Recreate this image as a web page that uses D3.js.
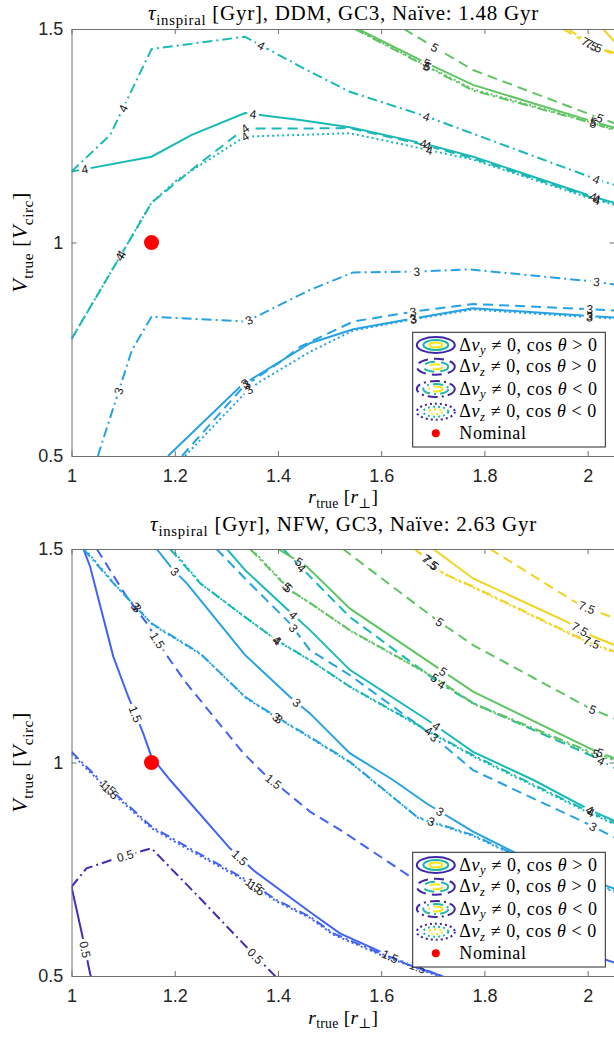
<!DOCTYPE html>
<html><head><meta charset="utf-8">
<script src="https://cdn.jsdelivr.net/npm/d3@7"></script>
<style>body{margin:0;background:#fff}svg{display:block}</style>
</head><body>
<svg id="c" width="614" height="1037"></svg>
<script>
// ---------------- data ----------------
const xTicks = [1, 1.2, 1.4, 1.6, 1.8, 2];
const yTicks = [0.5, 1, 1.5];
const levels = [0.5, 1.5, 3, 4, 5, 7.5];
const nominal = [1.155, 1.0];

const titleDDM = [{t:"τ",it:1},{t:"inspiral",sub:1},{t:" [Gyr], DDM, GC3, Naïve: 1.48 Gyr"}];
const titleNFW = [{t:"τ",it:1},{t:"inspiral",sub:1},{t:" [Gyr], NFW, GC3, Naïve: 2.63 Gyr"}];
const xLabel = [{t:"r",it:1},{t:"true",sub:1},{t:" ["},{t:"r",it:1},{t:"⊥",sub:1},{t:"]"}];
const yLabel = [{t:"V",it:1},{t:"true",sub:1},{t:" ["},{t:"V",it:1},{t:"circ",sub:1},{t:"]"}];
const legendVariants = ["solid","dashed","dashdot","dotted"];
const legendLabels = [
  [{t:"Δ"},{t:"v",it:1},{t:"y",it:1,sub:1},{t:" ≠ 0, cos "},{t:"θ",it:1},{t:" > 0"}],
  [{t:"Δ"},{t:"v",it:1},{t:"z",it:1,sub:1},{t:" ≠ 0, cos "},{t:"θ",it:1},{t:" > 0"}],
  [{t:"Δ"},{t:"v",it:1},{t:"y",it:1,sub:1},{t:" ≠ 0, cos "},{t:"θ",it:1},{t:" < 0"}],
  [{t:"Δ"},{t:"v",it:1},{t:"z",it:1,sub:1},{t:" ≠ 0, cos "},{t:"θ",it:1},{t:" < 0"}],
  [{t:"Nominal"}]
];

// DDM contour lines: [r, V] points, label anchors
const ddmLines = [
  {level:4, v:"dashdot", pts:[[1.0,1.166],[1.075,1.252],[1.155,1.453],[1.336,1.482],[1.462,1.400],[1.539,1.353],[1.688,1.295],[2.017,1.148],[2.06,1.132]], labels:[[1.100,1.314],[1.368,1.462],[1.688,1.295],[2.017,1.148]]},
  {level:4, v:"solid", pts:[[1.0,1.166],[1.155,1.201],[1.233,1.252],[1.336,1.303],[1.443,1.287],[1.539,1.270],[1.685,1.231],[1.778,1.201],[2.011,1.107],[2.06,1.09]], labels:[[1.026,1.170],[1.352,1.300],[1.682,1.232],[2.011,1.107]]},
  {level:4, v:"dashed", pts:[[1.0,0.774],[1.113,1.006],[1.155,1.093],[1.249,1.186],[1.336,1.267],[1.443,1.267],[1.539,1.268],[1.685,1.228],[1.778,1.197],[2.011,1.104],[2.06,1.088]], labels:[[1.094,0.966],[1.336,1.267],[1.690,1.227],[2.018,1.102]]},
  {level:4, v:"dotted", pts:[[1.0,0.774],[1.155,1.093],[1.204,1.146],[1.336,1.248],[1.443,1.252],[1.539,1.256],[1.675,1.221],[1.778,1.194],[2.011,1.101],[2.06,1.086]], labels:[[1.097,0.972],[1.336,1.248],[1.694,1.218],[2.018,1.099]]},
  {level:3, v:"dashdot", pts:[[1.051,0.5],[1.117,0.748],[1.155,0.826],[1.339,0.815],[1.462,0.889],[1.546,0.930],[1.669,0.932],[1.772,0.937],[2.017,0.908],[2.06,0.9]], labels:[[1.094,0.651],[1.344,0.818],[1.669,0.932],[2.017,0.908]]},
  {level:3, v:"solid", pts:[[1.187,0.5],[1.330,0.666],[1.462,0.764],[1.546,0.797],[1.662,0.822],[1.778,0.846],[2.004,0.828],[2.06,0.824]], labels:[[1.335,0.672],[1.662,0.822],[2.004,0.828]]},
  {level:3, v:"dashed", pts:[[1.214,0.5],[1.333,0.662],[1.410,0.725],[1.443,0.756],[1.546,0.815],[1.662,0.838],[1.778,0.856],[2.004,0.844],[2.06,0.840]], labels:[[1.339,0.668],[1.662,0.838],[2.004,0.844]]},
  {level:3, v:"dotted", pts:[[1.220,0.5],[1.339,0.651],[1.365,0.674],[1.462,0.744],[1.546,0.794],[1.662,0.820],[1.778,0.843],[2.004,0.825],[2.06,0.821]], labels:[[1.343,0.656],[1.662,0.820],[2.004,0.825]]},
  {level:5, v:"dashed", pts:[[1.644,1.5],[1.701,1.459],[1.778,1.404],[2.024,1.291],[2.06,1.276]], labels:[[1.704,1.457],[2.024,1.291]]},
  {level:5, v:"solid", pts:[[1.555,1.5],[1.688,1.420],[1.778,1.369],[2.011,1.283],[2.06,1.266]], labels:[[1.688,1.42],[2.011,1.283]]},
  {level:5, v:"dashdot", pts:[[1.549,1.5],[1.688,1.412],[1.778,1.356],[2.011,1.279],[2.06,1.259]], labels:[[1.688,1.412],[2.011,1.279]]},
  {level:5, v:"dotted", pts:[[1.551,1.5],[1.688,1.414],[1.778,1.359],[2.011,1.280],[2.06,1.261]], labels:[[1.690,1.413]]},
  {level:7.5, v:"dashed", pts:[[1.952,1.5],[2.004,1.465],[2.06,1.44]], labels:[[2.004,1.465]]},
  {level:7.5, v:"dashdot", pts:[[1.962,1.5],[2.010,1.462],[2.06,1.435]], labels:[[2.012,1.460]]},
  {level:7.5, v:"solid", pts:[[2.030,1.5],[2.06,1.46]], labels:[]}
];

// NFW contour lines
const nfwLines = [
  {level:0.5, v:"solid", pts:[[1.0,0.709],[1.020,0.600],[1.036,0.506],[1.038,0.497]], labels:[[1.023,0.561]]},
  {level:0.5, v:"dashdot", pts:[[1.0,0.709],[1.029,0.752],[1.088,0.776],[1.155,0.799],[1.249,0.682],[1.339,0.568],[1.397,0.497]], labels:[[1.104,0.781],[1.357,0.548]]},
  {level:1.5, v:"solid", pts:[[1.023,1.5],[1.036,1.459],[1.081,1.248],[1.110,1.154],[1.139,1.068],[1.155,1.013],[1.191,0.959],[1.307,0.799],[1.352,0.748],[1.462,0.650],[1.520,0.600],[1.591,0.561],[1.649,0.528],[1.720,0.499]], labels:[[1.119,1.111],[1.326,0.777],[1.617,0.545]]},
  {level:1.5, v:"dashed", pts:[[1.049,1.5],[1.107,1.388],[1.146,1.326],[1.184,1.252],[1.223,1.185],[1.333,1.022],[1.372,0.975],[1.462,0.885],[1.526,0.838],[1.656,0.733],[1.758,0.671],[1.908,0.589],[2.06,0.528]], labels:[[1.165,1.285],[1.391,0.955]]},
  {level:1.5, v:"dashdot", pts:[[1.0,1.025],[1.055,0.959],[1.155,0.850],[1.223,0.803],[1.339,0.725],[1.397,0.678],[1.462,0.639],[1.507,0.600],[1.598,0.553],[1.720,0.499]], labels:[[1.071,0.943],[1.352,0.712],[1.671,0.522]]},
  {level:1.5, v:"dotted", pts:[[1.0,1.020],[1.055,0.955],[1.155,0.846],[1.223,0.799],[1.339,0.721],[1.397,0.675],[1.462,0.636],[1.507,0.597],[1.598,0.550],[1.712,0.499]], labels:[[1.076,0.933],[1.357,0.703]]},
  {level:3, v:"solid", pts:[[1.165,1.5],[1.197,1.451],[1.223,1.420],[1.336,1.252],[1.423,1.154],[1.462,1.115],[1.539,1.022],[1.623,0.959],[1.688,0.904],[1.778,0.838],[1.862,0.787],[2.004,0.725],[2.06,0.701]], labels:[[1.200,1.447],[1.436,1.14],[1.714,0.885]]},
  {level:3, v:"dashed", pts:[[1.281,1.5],[1.336,1.431],[1.423,1.326],[1.462,1.263],[1.539,1.205],[1.694,1.068],[1.778,0.982],[2.004,0.854],[2.06,0.82]], labels:[[1.430,1.315],[1.704,1.06],[2.011,0.85]]},
  {level:3, v:"dashdot", pts:[[1.023,1.5],[1.081,1.420],[1.155,1.326],[1.249,1.256],[1.336,1.154],[1.397,1.107],[1.462,1.060],[1.539,1.002],[1.669,0.873],[1.778,0.830],[1.862,0.783],[2.004,0.720],[2.06,0.697]], labels:[[1.123,1.365],[1.397,1.107],[1.698,0.866]]},
  {level:3, v:"dotted", pts:[[1.026,1.5],[1.084,1.417],[1.158,1.322],[1.252,1.252],[1.339,1.150],[1.400,1.103],[1.465,1.056],[1.542,0.998],[1.672,0.870],[1.780,0.827],[1.862,0.780],[2.004,0.717],[2.06,0.694]], labels:[[1.126,1.36],[1.401,1.10]]},
  {level:4, v:"solid", pts:[[1.301,1.5],[1.336,1.451],[1.423,1.353],[1.462,1.310],[1.539,1.217],[1.694,1.096],[1.778,1.025],[1.895,0.959],[2.004,0.889],[2.06,0.859]], labels:[[1.430,1.345],[1.707,1.085],[2.004,0.889]]},
  {level:4, v:"dashdot", pts:[[1.191,1.5],[1.249,1.420],[1.336,1.341],[1.397,1.287],[1.462,1.240],[1.539,1.178],[1.701,1.068],[1.778,1.017],[2.004,0.884],[2.06,0.854]], labels:[[1.397,1.287],[1.691,1.072],[2.006,0.883]]},
  {level:4, v:"dotted", pts:[[1.194,1.5],[1.252,1.417],[1.339,1.338],[1.400,1.284],[1.465,1.237],[1.542,1.175],[1.704,1.064],[1.780,1.013],[2.006,0.880],[2.06,0.851]], labels:[[1.399,1.284]]},
  {level:4, v:"dashed", pts:[[1.410,1.5],[1.456,1.443],[1.539,1.341],[1.714,1.185],[1.778,1.139],[2.011,1.014],[2.06,0.982]], labels:[[1.446,1.455],[1.717,1.183],[2.027,1.005]]},
  {level:5, v:"solid", pts:[[1.400,1.5],[1.456,1.459],[1.539,1.361],[1.707,1.224],[1.778,1.166],[2.011,1.029],[2.06,1.006]], labels:[[1.441,1.470],[1.720,1.213],[2.024,1.023]]},
  {level:5, v:"dashdot", pts:[[1.346,1.5],[1.423,1.404],[1.462,1.374],[1.539,1.310],[1.701,1.201],[1.778,1.139],[2.011,1.022],[2.06,1.006]], labels:[[1.417,1.412],[1.704,1.199],[2.016,1.020]]},
  {level:5, v:"dotted", pts:[[1.349,1.5],[1.426,1.401],[1.465,1.371],[1.542,1.307],[1.704,1.198],[1.780,1.136],[2.011,1.019],[2.06,1.003]], labels:[[1.420,1.408]]},
  {level:5, v:"dashed", pts:[[1.526,1.5],[1.707,1.334],[1.778,1.275],[2.004,1.127],[2.06,1.099]], labels:[[1.714,1.33],[2.010,1.124]]},
  {level:7.5, v:"solid", pts:[[1.701,1.5],[1.778,1.431],[1.959,1.330],[2.011,1.295],[2.06,1.271]], labels:[[1.985,1.312]]},
  {level:7.5, v:"dashdot", pts:[[1.665,1.5],[1.720,1.443],[1.778,1.412],[1.979,1.295],[2.06,1.256]], labels:[[1.694,1.470],[2.008,1.282]]},
  {level:7.5, v:"dotted", pts:[[1.667,1.5],[1.722,1.441],[1.780,1.409],[1.981,1.292],[2.06,1.253]], labels:[[1.696,1.467]]},
  {level:7.5, v:"dashed", pts:[[1.811,1.5],[1.985,1.369],[2.06,1.334]], labels:[[1.998,1.362]]}
];

// ---------------- rendering ----------------
const W = 614, H = 1037;
const L = 71.5, R = 615;
const svg = d3.select("#c");
const defs = svg.append("defs");
const x = d3.scaleLinear().domain([1, 2.053]).range([L, R]);
const color = d3.scaleOrdinal().domain(levels)
  .range(["#3d2fb8","#4163f2","#26a2e4","#19b9b6","#5fc462","#f0d41c"]);
const dashes = {solid:null, dashed:"10,6", dashdot:"10,4,2,4", dotted:"2,3"};
const SERIF = "'Liberation Serif', 'DejaVu Serif', serif";
const SANS = "'Liberation Sans', Arial, sans-serif";
const fmt = d => String(d);

function richText(sel, segs, fs, drop){
  const dr = drop == null ? 0.28 : drop;
  let inSub = false;
  segs.forEach(s => {
    const ts = sel.append("tspan").text(s.t);
    if (s.it) ts.attr("font-style","italic");
    if (s.sub){
      ts.attr("font-size", fs*0.7);
      if (!inSub){ ts.attr("dy", fs*dr); inSub = true; }
    } else if (inSub){ ts.attr("dy", -fs*dr); inSub = false; }
  });
}

function placeLabel(sp, q){
  let best = null;
  for (let i=0;i<sp.length-1;i++){
    const [x1,y1]=sp[i],[x2,y2]=sp[i+1];
    const dx=x2-x1, dy=y2-y1, l2=dx*dx+dy*dy;
    let t = l2 ? ((q[0]-x1)*dx+(q[1]-y1)*dy)/l2 : 0;
    t = Math.max(0,Math.min(1,t));
    const px=x1+t*dx, py=y1+t*dy;
    const d=(px-q[0])**2+(py-q[1])**2;
    if(!best||d<best.d){
      let a=Math.atan2(dy,dx)*180/Math.PI;
      if(a>90)a-=180; if(a<-90)a+=180;
      best={d,x:px,y:py,a};
    }
  }
  return best;
}
const labelW = s => s.split("").reduce((w,c)=>w+(c==="."?3.3:6.7),0);

const panels = [
  {title:titleDDM, lines:ddmLines, top:29, bottom:456, titleY:19.5, xlabY:503},
  {title:titleNFW, lines:nfwLines, top:549, bottom:976, titleY:531, xlabY:1023.5}
];

panels.forEach((p, idx) => {
  const y = d3.scaleLinear().domain([0.5,1.5]).range([p.bottom, p.top]);
  const line = d3.line().x(d=>x(d[0])).y(d=>y(d[1]));
  const clipId = "clip"+idx;
  defs.append("clipPath").attr("id",clipId).append("rect")
    .attr("x",L).attr("y",p.top).attr("width",R-L).attr("height",p.bottom-p.top);
  const plot = svg.append("g").attr("clip-path",`url(#${clipId})`);

  const labelsAll = [];
  p.lines.forEach((ln,i) => {
    const sp = ln.pts.map(d=>[x(d[0]),y(d[1])]);
    const labs = ln.labels.map(l=>placeLabel(sp,[x(l[0]),y(l[1])]));
    const maskId = `m${idx}_${i}`;
    const m = defs.append("mask").attr("id",maskId).attr("maskUnits","userSpaceOnUse")
      .attr("x",0).attr("y",0).attr("width",W).attr("height",H);
    m.append("rect").attr("x",0).attr("y",0).attr("width",W).attr("height",H).attr("fill","#fff");
    const txt = fmt(ln.level);
    labs.forEach(lb => {
      const w = labelW(txt)+5;
      m.append("rect").attr("x",-w/2).attr("y",-6).attr("width",w).attr("height",12).attr("fill","#000")
        .attr("transform",`translate(${lb.x},${lb.y}) rotate(${lb.a})`);
      labelsAll.push({lb, txt});
    });
    plot.append("path").attr("d", line(ln.pts)).attr("fill","none")
      .attr("stroke", color(ln.level)).attr("stroke-width",2)
      .attr("stroke-dasharray", dashes[ln.v]).attr("mask",`url(#${maskId})`);
  });
  labelsAll.forEach(({lb,txt}) => {
    plot.append("text").attr("transform",`translate(${lb.x},${lb.y}) rotate(${lb.a})`)
      .attr("text-anchor","middle").attr("dy","0.36em")
      .attr("font-family",SANS).attr("font-size",12).attr("fill","#1a1a1a").text(txt);
  });

  // nominal marker
  svg.append("circle").attr("cx",x(nominal[0])).attr("cy",y(nominal[1])).attr("r",7.5).attr("fill","#ff0000");

  // axes
  const axCol = "#6e6e6e";
  const styleAxis = g => {
    g.select(".domain").attr("stroke",axCol).attr("stroke-width",1);
    g.selectAll(".tick line").attr("stroke",axCol);
    g.selectAll(".tick text").attr("fill","#262626").attr("font-family",SANS).attr("font-size",18);
  };
  svg.append("g").attr("transform",`translate(0,${p.bottom})`)
    .call(d3.axisBottom(x).tickValues(xTicks).tickSize(-5).tickSizeOuter(0).tickPadding(13.5).tickFormat(fmt)).call(styleAxis);
  svg.append("g").attr("transform",`translate(0,${p.top})`)
    .call(d3.axisTop(x).tickValues(xTicks).tickSize(-5).tickSizeOuter(0).tickFormat("")).call(styleAxis);
  svg.append("g").attr("transform",`translate(${L},0)`)
    .call(d3.axisLeft(y).tickValues(yTicks).tickSize(-5).tickSizeOuter(0).tickPadding(8.2).tickFormat(fmt)).call(styleAxis);
  svg.append("g").attr("transform",`translate(${R-0.5},0)`)
    .call(d3.axisRight(y).tickValues(yTicks).tickSize(-5).tickSizeOuter(0).tickFormat("")).call(styleAxis);

  // title & labels
  svg.append("text").attr("x",343.5).attr("y",p.titleY).attr("text-anchor","middle")
    .attr("font-family",SERIF).attr("font-size",21).attr("letter-spacing",0.75).attr("fill","#000").call(t=>richText(t,p.title,21,0.24));
  svg.append("text").attr("x",343.3).attr("y",p.xlabY).attr("text-anchor","middle")
    .attr("font-family",SERIF).attr("font-size",19.5).attr("letter-spacing",0.3).attr("fill","#000").call(t=>richText(t,xLabel,19.5,0.24));
  svg.append("text").attr("transform",`translate(27,${(p.top+p.bottom)/2}) rotate(-90)`).attr("text-anchor","middle")
    .attr("font-family",SERIF).attr("font-size",22).attr("letter-spacing",0.5).attr("fill","#000").call(t=>richText(t,yLabel,22));

  // legend
  const lx = 412.7, ly = p.top + 303.3;
  const lg = svg.append("g");
  lg.append("rect").attr("x",lx).attr("y",ly).attr("width",192.6).attr("height",114.7)
    .attr("fill","#fff").attr("stroke","#262626").attr("stroke-width",1);
  const rowY = [12.7, 34.4, 56.7, 79.4, 101];
  const ringCol = ["#3e26a8","#1fb5ad","#f6e51a"];
  const rings = [[19,8],[12.5,5],[6.5,2.5]];
  legendLabels.forEach((segs,i) => {
    const cy = ly+rowY[i], cx = lx+23.1;
    if (i < 4){
      rings.forEach((r,k) => lg.append("ellipse").attr("cx",cx).attr("cy",cy).attr("rx",r[0]).attr("ry",r[1])
        .attr("fill","none").attr("stroke",ringCol[k]).attr("stroke-width",2)
        .attr("stroke-dasharray",dashes[legendVariants[i]]));
    } else {
      lg.append("circle").attr("cx",cx).attr("cy",cy).attr("r",4).attr("fill","#ff0000");
    }
    lg.append("text").attr("x",lx+46.6).attr("y",cy+5.5).attr("font-family",SERIF).attr("font-size",18)
      .attr("letter-spacing",0.6).attr("fill","#000").call(t=>richText(t,segs,18,0.22));
  });
});
</script>
</body></html>
